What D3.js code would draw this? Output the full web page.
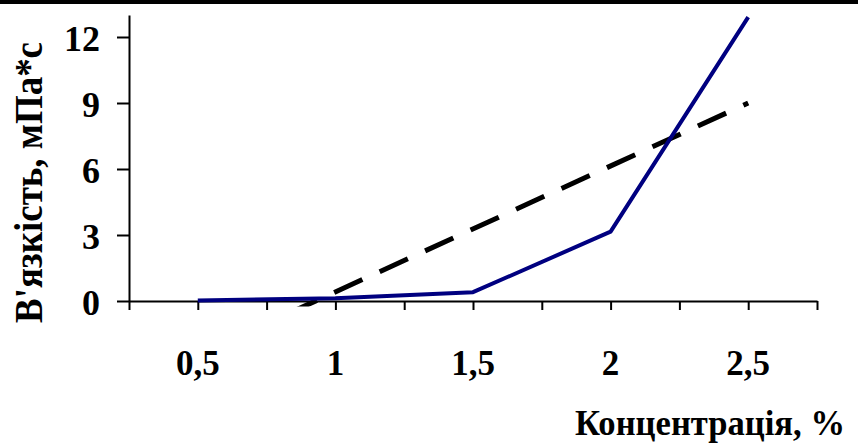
<!DOCTYPE html>
<html>
<head>
<meta charset="utf-8">
<script src="https://cdn.jsdelivr.net/npm/d3@7"></script>
<style>
  body { margin: 0; background: #fff; }
  svg { display: block; }
</style>
</head>
<body>
<script>
// concentration, %
const concentration = [0.5, 1, 1.5, 2, 2.5];
// viscosity, mPa*s
const viscosity = [0.02, 0.13, 0.4, 3.15, 12.9];
// linear trend line ends
const trendX = [0.5, 2.5];
const trendY = [-2.45, 9.0];
const xTickLabels = ["0,5", "1", "1,5", "2", "2,5"];
const yTicks = [0, 3, 6, 9, 12];

const width = 858, height = 443;
const serif = "'Liberation Serif', 'Times New Roman', serif";
const svg = d3.select("body").append("svg").attr("width", width).attr("height", height);

// top border bar
svg.append("rect").attr("x", 0).attr("y", 0).attr("width", width).attr("height", 4).attr("fill", "#000");

const xScale = d3.scaleLinear().domain([0.25, 2.75]).range([129, 817]);
const yScale = d3.scaleLinear().domain([0, 13]).range([301, 15]);

// clip for the series (a little slack below zero like the original)
svg.append("clipPath").attr("id", "plot")
   .append("rect")
   .attr("x", xScale(0.25)).attr("y", yScale(13))
   .attr("width", xScale(2.75) - xScale(0.25))
   .attr("height", yScale(-0.25) - yScale(13));

// y axis
const yAxis = d3.axisLeft(yScale).tickValues(yTicks).tickSize(12).tickSizeOuter(0).tickFormat("");
const gy = svg.append("g").attr("transform", `translate(${xScale(0.25)},0)`).call(yAxis);
gy.select(".domain").attr("stroke", "#000").attr("stroke-width", 2);
gy.selectAll(".tick line").attr("stroke", "#000").attr("stroke-width", 2);

svg.append("g").selectAll("text").data(yTicks).join("text")
   .attr("x", 100)
   .attr("y", d => yScale(d) + 14)
   .attr("text-anchor", "end")
   .attr("font-family", serif).attr("font-weight", "bold")
   .attr("font-size", 36)
   .text(d => d);

// x axis, ticks every quarter
const xAxis = d3.axisBottom(xScale).tickValues(d3.range(0.25, 2.76, 0.25)).tickSize(9).tickSizeOuter(0).tickFormat("");
const gx = svg.append("g").attr("transform", `translate(0,${yScale(0)})`).call(xAxis);
gx.select(".domain").attr("stroke", "#000").attr("stroke-width", 2);
gx.selectAll(".tick line").attr("stroke", "#000").attr("stroke-width", 2);

svg.append("g").selectAll("text").data(concentration).join("text")
   .attr("x", d => xScale(d))
   .attr("y", 375)
   .attr("text-anchor", "middle")
   .attr("font-family", serif).attr("font-weight", "bold")
   .attr("font-size", 35)
   .text((d, i) => xTickLabels[i]);

// series
const plot = svg.append("g").attr("clip-path", "url(#plot)");

const line = d3.line().x(d => xScale(d[0])).y(d => yScale(d[1]));

plot.append("path")
    .attr("fill", "none")
    .attr("stroke", "#000")
    .attr("stroke-width", 5)
    .attr("stroke-dasharray", "31,19")
    .attr("d", line(d3.zip(trendX, trendY)));

plot.append("path")
    .attr("fill", "none")
    .attr("stroke", "#000080")
    .attr("stroke-width", 4)
    .attr("stroke-linejoin", "round")
    .attr("d", line(d3.zip(concentration, viscosity)));

// axis titles
svg.append("text")
   .attr("x", 575).attr("y", 435)
   .attr("font-family", serif).attr("font-weight", "bold")
   .attr("font-size", 36)
   .attr("textLength", 270)
   .attr("lengthAdjust", "spacingAndGlyphs")
   .text("Концентрація, %");

svg.append("text")
   .attr("transform", "translate(42,182.5) rotate(-90)")
   .attr("text-anchor", "middle")
   .attr("font-family", serif).attr("font-weight", "bold")
   .attr("font-size", 41)
   .attr("textLength", 281)
   .attr("lengthAdjust", "spacingAndGlyphs")
   .text("В'язкість, мПа*с");
</script>
</body>
</html>
